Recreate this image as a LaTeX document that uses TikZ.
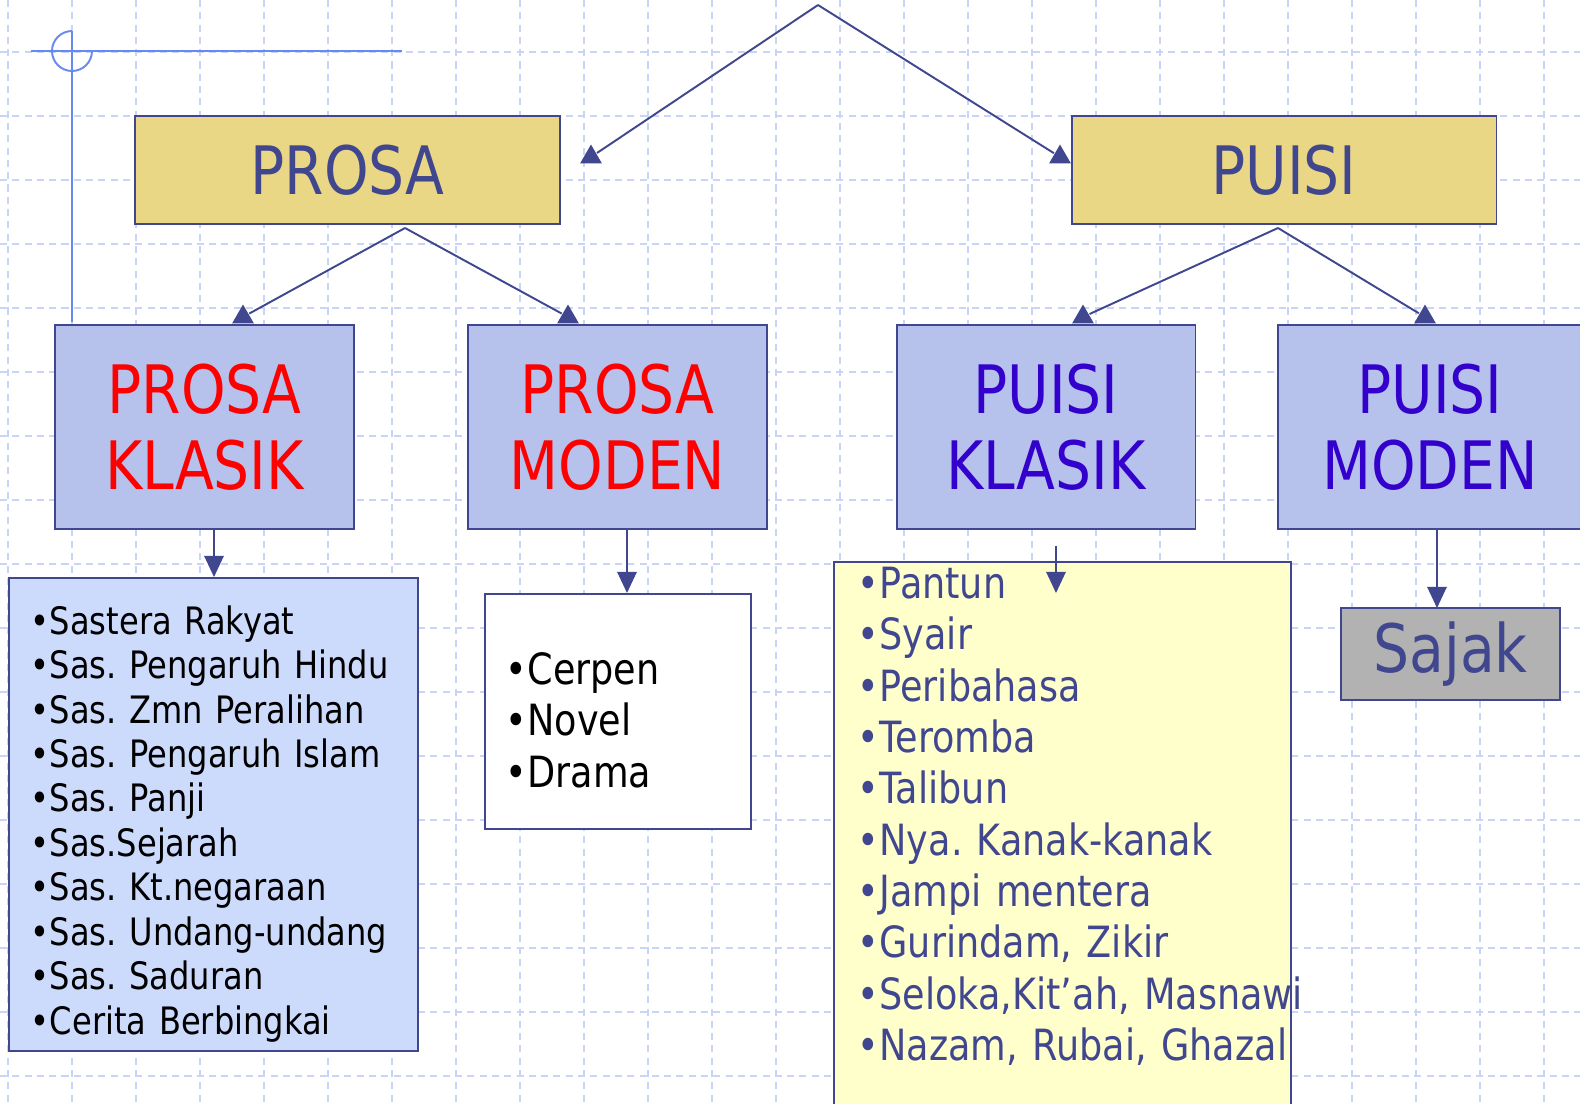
\documentclass[tikz,border=0pt]{standalone}
\usepackage{fontspec}
\setmainfont{DejaVu Sans}[FakeStretch=0.85]
\usetikzlibrary{arrows.meta,positioning,shapes.geometric}

\definecolor{navy}{RGB}{64,71,143}
\definecolor{gold}{RGB}{234,215,133}
\definecolor{lilac}{RGB}{182,193,236}
\definecolor{paleblue}{RGB}{204,218,252}
\definecolor{cream}{RGB}{255,255,204}
\definecolor{ashgrey}{RGB}{178,178,178}
\definecolor{indigo}{RGB}{51,0,204}
\definecolor{gridblue}{RGB}{200,213,248}
\definecolor{crossblue}{RGB}{104,138,240}

\newcommand{\boxfont}{\fontsize{38}{43.3}\selectfont}
\newcommand{\listfont}{\fontsize{21.5}{25.3}\selectfont\frenchspacing}
\newcommand{\itemfont}{\fontsize{24.5}{29.2}\selectfont\frenchspacing}

\begin{document}
\begin{tikzpicture}[x=0.02cm,y=-0.02cm,>={Triangle[length=12pt,width=11pt]},
line width=1.1pt]
\tikzstyle{gridline}=[draw=gridblue,line width=0.8pt,dash pattern=on 4pt off 3pt]
\tikzstyle{cross}=[draw=crossblue,line width=1.1pt]
\tikzstyle{head}=[draw=navy,fill=gold,text=navy,font=\boxfont,minimum width=8.5cm,minimum height=2.16cm]
\tikzstyle{kind}=[draw=navy,fill=lilac,font=\boxfont,align=center,minimum width=5.98cm,minimum height=4.08cm]
\tikzstyle{list}=[draw=navy,text=black,anchor=north west,align=left]
\tikzstyle{uptip}=[regular polygon,regular polygon sides=3,fill=navy,inner sep=0pt,minimum size=0.5cm]

\useasboundingbox (0,0) rectangle (1580,1103);
\fill[white] (0,0) rectangle (1580,1103);

% background grid
\foreach \x in {8,72,...,1580} \draw[gridline] (\x,0) -- (\x,1103);
\foreach \y in {52,116,...,1103} \draw[gridline] (0,\y) -- (1580,\y);

% crosshair
\draw[cross] (31,51) -- (402,51);
\draw[cross] (72,31) -- (72,322);
\draw[cross] (72,31) arc[start angle=270,end angle=0,radius=20];

\node[head]                 (prosa) at (347.5,170) {PROSA};
\node[head]                 (puisi) at (1284,170)  {PUISI};
\node[kind,text=red]        (pk)    at (204.5,427) {PROSA\\KLASIK};
\node[kind,text=red]        (pm)    at (617.5,427) {PROSA\\MODEN};
\node[kind,text=indigo]     (qk)    at (1046,427)  {PUISI\\KLASIK};
\node[kind,text=indigo,minimum width=6.08cm] (qm) at (1430,427) {PUISI\\MODEN};

\node[list,fill=paleblue,font=\listfont,text width=7.3cm,inner xsep=0.44cm,
text height=27pt,minimum height=9.46cm] (pklist) at (8,577)
{•Sastera Rakyat\\•Sas. Pengaruh Hindu\\•Sas. Zmn Peralihan\\•Sas. Pengaruh Islam\\
•Sas. Panji\\•Sas.Sejarah\\•Sas. Kt.negaraan\\•Sas. Undang-undang\\•Sas. Saduran\\
•Cerita Berbingkai};
\node[list,fill=white,font=\itemfont,text width=4.48cm,inner xsep=0.42cm,
text height=28pt,minimum height=4.7cm] (pmlist) at (484,593)
{•Cerpen\\•Novel\\•Drama};
\node[list,fill=cream,text=navy,font=\itemfont,text width=8.18cm,inner xsep=0.48cm,
inner ysep=3pt,text depth=11cm] (qklist) at (833,561)
{•Pantun\\•Syair\\•Peribahasa\\•Teromba\\•Talibun\\•Nya. Kanak-kanak\\
•Jampi mentera\\•Gurindam, Zikir\\\mbox{•Seloka,Kit’ah, Masnawi}\\\mbox{•Nazam, Rubai, Ghazal}};
\node[draw=navy,fill=ashgrey,text=navy,font=\boxfont,minimum width=4.38cm,
minimum height=1.84cm] (sajak) at (1450.5,654) {Sajak};

% arrow heads of the slanted connectors
\node[uptip] (prosaTip) at (591,157) {};
\node[uptip] (puisiTip) at (1060,157) {};
\node[uptip] (pkTip)    at (243,317) {};
\node[uptip] (pmTip)    at (568,317) {};
\node[uptip] (qkTip)    at (1083,317) {};
\node[uptip] (qmTip)    at (1425,317) {};

% connector ends
\coordinate (apex)      at (818,5);
\coordinate (prosaFork) at (405,228);
\coordinate (puisiFork) at (1278,228);
\coordinate (pkOut)     at (214,530);
\coordinate (pkListIn)  at (214,577);
\coordinate (pmOut)     at (627,530);
\coordinate (pmListIn)  at (627,593);
\coordinate (qkOut)     at (1056,546);
\coordinate (qkListIn)  at (1056,593);
\coordinate (qmOut)     at (1437,530);
\coordinate (sajakIn)   at (1437,608);

\path[navy]
(apex)      edge (prosaTip)
(apex)      edge (puisiTip)
(prosaFork) edge (pkTip)
(prosaFork) edge (pmTip)
(puisiFork) edge (qkTip)
(puisiFork) edge (qmTip);
\path[->,navy]
(pkOut)     edge (pkListIn)
(pmOut)     edge (pmListIn)
(qkOut)     edge (qkListIn)
(qmOut)     edge (sajakIn);
\end{tikzpicture}
\end{document}
